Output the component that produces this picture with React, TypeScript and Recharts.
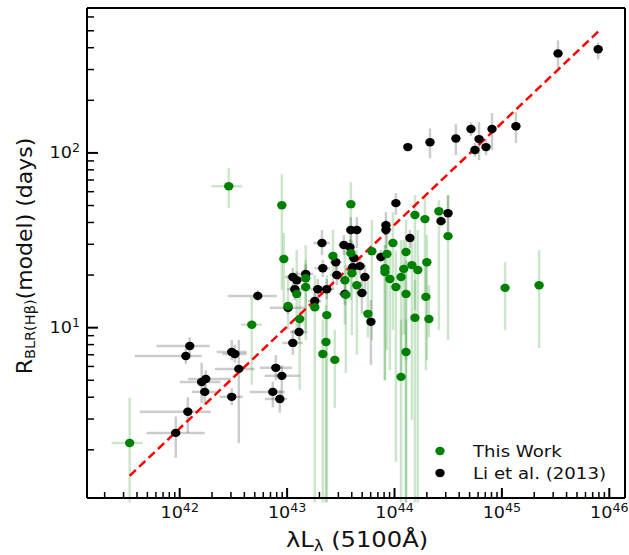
import React from "react"
import { ScatterChart, Scatter, XAxis, YAxis, ErrorBar, ReferenceLine, Legend } from "recharts"

// Li et al. (2013) sample: luminosity, radius and their error bounds
const liLum = [3.33e45, 7.87e45, 1.33e44, 2.14e44, 3.73e44, 5.15e44, 6.12e44, 5.61e44, 7.11e44, 8.09e44, 1.35e45, 1.03e44, 3.15e44, 2.71e44, 3.92e43, 4.46e43, 8.32e43, 8.32e43, 1.39e44, 7.47e43, 2.11e43, 3.38e43, 3.84e43, 4.19e43, 2.84e43, 2.15e43, 4.09e43, 4.76e43, 1.49e43, 1.13e43, 1.23e43, 2.9e43, 5.3e43, 1.18e43, 1.93e43, 2.34e43, 1.81e43, 3.45e43, 4.97e43, 6.03e43, 1.02e43, 1.29e43, 1.13e43, 5.33e42, 3.05e42, 3.26e42, 3.55e42, 7.85e42, 8.93e42, 7.36e42, 8.55e42, 3.05e42, 1.24e42, 1.14e42, 1.6e42, 1.75e42, 1.71e42, 1.19e42, 9.18e41]
const liLumLo = [3.2e45, 7.6e45, 1.28e44, 2.05e44, 3.6e44, 4.95e44, 5.9e44, 5.4e44, 6.85e44, 7.8e44, 1.3e45, 9.7e43, 3.0e44, 2.6e44, 3.5e43, 4.0e43, 7.8e43, 7.8e43, 1.3e44, 7.0e43, 1.75e43, 3.0e43, 3.4e43, 3.7e43, 2.5e43, 1.8e43, 3.6e43, 4.2e43, 1.25e43, 9.5e42, 1.05e43, 2.5e43, 4.7e43, 1.0e43, 1.65e43, 2.0e43, 1.55e43, 3.0e43, 4.4e43, 5.6e43, 6.9e42, 1.06e43, 9.0e42, 2.8e42, 2.21e42, 2.5e42, 2.12e42, 5.56e42, 6.19e42, 4.49e42, 6.19e42, 2.36e42, 6.1e41, 3.81e41, 1.0e42, 1.2e42, 1.3e42, 4.24e41, 4.92e41]
const liLumHi = [3.45e45, 8.15e45, 1.38e44, 2.23e44, 3.87e44, 5.35e44, 6.35e44, 5.8e44, 7.4e44, 8.4e44, 1.4e45, 1.09e44, 3.3e44, 2.82e44, 4.3e43, 5.0e43, 8.9e43, 8.9e43, 1.48e44, 8.0e43, 2.5e43, 3.8e43, 4.3e43, 4.7e43, 3.2e43, 2.5e43, 4.6e43, 5.3e43, 1.75e43, 1.35e43, 1.45e43, 3.3e43, 5.9e43, 1.4e43, 2.25e43, 2.7e43, 2.1e43, 3.9e43, 5.6e43, 6.5e43, 1.46e43, 1.55e43, 1.4e43, 8.02e42, 4.21e42, 4.2e42, 5.0e42, 1.11e43, 1.31e43, 9.52e42, 1.0e43, 3.87e42, 1.9e42, 1.6e42, 2.4e42, 3.0e42, 2.2e42, 1.95e42, 1.71e42]
const liRad = [371, 392, 108, 115, 121, 137, 120, 104, 108, 137, 142, 51.6, 45.2, 40.7, 36.2, 36.2, 38.6, 36.2, 32.6, 25.4, 30.5, 29.7, 28.9, 25.0, 23.7, 21.9, 22.2, 22.5, 20.3, 19.5, 18.7, 20.0, 19.5, 16.6, 16.6, 16.6, 14.2, 15.6, 15.8, 10.8, 13.0, 9.45, 8.18, 15.2, 7.26, 7.07, 5.81, 5.89, 5.3, 4.29, 3.91, 4.02, 7.86, 6.89, 4.89, 5.09, 4.29, 3.3, 2.5]
const liRadLo = [305, 343, 104, 93.3, 97, 125, 90.9, 95, 97, 104, 114, 44.1, 31.7, 38, 25.4, 28.5, 33.9, 28.5, 28.5, 23.7, 26.0, 26, 26, 22, 21, 19.5, 19.5, 20, 18, 17, 16.5, 17.5, 16.4, 14.4, 14.5, 14.5, 12.5, 13.5, 12, 6.12, 12, 8.5, 6.98, 14.2, 6.5, 6.3, 2.19, 5.0, 3.97, 3.5, 3.26, 3.6, 7.0, 6.2, 3.7, 4.5, 3.6, 2.5, 1.8]
const liRadHi = [441, 429, 113, 138, 146, 150, 150, 114, 120, 169, 171, 58.9, 57.3, 44, 42.9, 42.9, 45.8, 41.3, 36.2, 27.8, 36.2, 33.9, 32, 28, 27, 24.5, 25, 25, 23, 22, 21, 23, 23, 19, 19, 19, 16, 18, 19, 14.4, 14, 11.1, 9.7, 16.4, 8.5, 8, 8.51, 6.98, 6.1, 4.9, 4.4, 4.5, 8.8, 7.6, 6.3, 5.7, 5.1, 4.0, 3.1]

// This Work sample
const twLum = [2.86e42, 8.93e42, 9.32e42, 1.49e43, 1.49e43, 1.23e43, 2.67e43, 3.92e43, 4.01e43, 3.45e43, 4.46e43, 3.52e43, 1.02e43, 1.81e43, 2.34e43, 3.92e43, 1.55e44, 1.92e44, 2.59e44, 3.15e44, 9.66e43, 6.15e43, 8.49e43, 1.28e44, 2.0e44, 1.45e44, 1.65e44, 8.14e43, 8.14e43, 1.15e44, 9.06e43, 1.03e44, 1.28e44, 1.96e44, 1.22e44, 5.65e43, 1.55e44, 2.78e43, 2.09e44, 1.28e44, 1.15e44, 4.69e42, 1.31e43, 2.3e43, 2.15e43, 3.42e41, 1.07e45, 2.22e45]
const twLumLo = [1.97e42, null, null, null, null, null, null, null, null, null, null, null, null, null, null, null, null, null, null, null, null, null, null, null, null, null, null, null, null, null, null, null, null, null, null, null, null, null, null, null, null, 3.71e42, null, null, null, 2.32e41, null, null]
const twLumHi = [3.82e42, null, null, null, null, null, null, null, null, null, null, null, null, null, null, null, null, null, null, null, null, null, null, null, null, null, null, null, null, null, null, null, null, null, null, null, null, null, null, null, null, 5.81e42, null, null, null, 4.52e41, null, null]
const twRad = [64.5, 50.2, 24.7, 19.2, 17.1, 15.6, 25.7, 26.7, 20.5, 18.7, 17.5, 15.4, 13.3, 13.1, 11.8, 50.9, 44.1, 41.8, 46.4, 33.4, 30.5, 27.4, 26.4, 27.1, 23.7, 22.8, 21.4, 21.9, 20.8, 19.5, 19.0, 17.1, 15.6, 15.0, 21.7, 12.0, 11.4, 6.54, 11.2, 7.26, 5.23, 10.4, 11.2, 8.28, 7.07, 2.19, 16.9, 17.5]
const twRadLo = [48.3, 16.4, 13.5, 9.7, 8.51, 9.7, 16.4, 14.4, 9.08, 10.4, 7.0, 5.5, 9.7, 1.0, 1.0, 33.9, 12.6, 14.4, 9.7, 8.5, 9.7, 8.5, 7.45, 6.5, 6.5, 2.97, 1.0, 5.0, 5.0, 5.0, 5.7, 1.71, 1.0, 5.7, 9.1, 8.8, 1.0, 3.48, 8.8, 1.0, 1.0, 4.71, 4.4, 1.0, 1.0, 1.0, 9.7, 7.65]
const twRadHi = [81.8, 75.5, 34.8, 29.7, 24.4, 27.8, 36.2, 36.2, 31.7, 27.8, 27.8, 22.8, 20.0, 20.0, 20.0, 68.0, 57.3, 57.3, 53.7, 57.3, 45.8, 41.3, 38.6, 41.3, 33.9, 33.9, 36.2, 29.7, 29.7, 31.7, 27.8, 27.8, 24.4, 23.0, 31.7, 18.7, 18.7, 9.7, 17.5, 11.1, 11.1, 15.0, 16.4, 13.5, 11.1, 3.97, 23.7, 27.8]

// best-fit line end points
const fitLum = [3.42e41, 7.92e45]
const fitRad = [1.42, 496]

const legendLabels = ["This Work", "Li et al. (2013)"]

const xMajor = [1e42, 1e43, 1e44, 1e45, 1e46]
const xTickLabels = ["42", "43", "44", "45", "46"]
const yMajor = [1e1, 1e2]
const yTickLabels = ["1", "2"]
const minorMantissa = [2, 3, 4, 5, 6, 7, 8, 9]

const X_DOMAIN = [1.37e41, 1.4e46]
const Y_DOMAIN = [1.06, 675]

const FONT = "'DejaVu Sans', sans-serif"
const SX = 1.1
const GREEN = "#008000"

const buildTicks = (decades: number[], dom: number[]) => {
  const out: number[] = []
  decades.forEach((d) => {
    out.push(d)
    minorMantissa.forEach((m) => out.push(m * d))
  })
  return out.filter((v) => v >= dom[0] && v <= dom[1])
}
const xTicks = buildTicks([1e41, 1e42, 1e43, 1e44, 1e45, 1e46], X_DOMAIN)
const yTicks = buildTicks([1, 10, 100], Y_DOMAIN)

const majorIndex = (list: number[], v: number) =>
  list.findIndex((m) => Math.abs(Math.log10(m) - Math.log10(v)) < 1e-6)

const rows = (lum: number[], lo: (number | null)[], hi: (number | null)[], rad: number[], rlo: number[], rhi: number[]) =>
  lum.map((l, i) => ({
    lum: l,
    rad: rad[i],
    ex: lo[i] == null ? null : [l - (lo[i] as number), (hi[i] as number) - l],
    ey: [rad[i] - rlo[i], rhi[i] - rad[i]],
  }))

const liRows = rows(liLum, liLumLo, liLumHi, liRad, liRadLo, liRadHi)
const twRows = rows(twLum, twLumLo, twLumHi, twRad, twRadLo, twRadHi)

function XTick(props: any) {
  const { x, y, payload } = props
  const i = majorIndex(xMajor, payload.value)
  const major = i >= 0
  return (
    <g>
      <line x1={x} x2={x} y1={y} y2={y - (major ? 10 : 6)} stroke="#000" strokeWidth={major ? 2 : 1.5} />
      {major && (
        <g transform={`translate(${x},${y + 20}) scale(${SX},1)`}>
          <text textAnchor="middle" fontFamily={FONT} fontSize={16} fill="#111">
            10<tspan dy={-6.5} fontSize={11.5}>{xTickLabels[i]}</tspan>
          </text>
        </g>
      )}
    </g>
  )
}

function YTick(props: any) {
  const { x, y, payload } = props
  const i = majorIndex(yMajor, payload.value)
  const major = i >= 0
  return (
    <g>
      <line x1={x} x2={x + (major ? 11 : 7)} y1={y} y2={y} stroke="#000" strokeWidth={major ? 2 : 1.5} />
      {major && (
        <g transform={`translate(${x - 7},${y + 5.5}) scale(${SX},1)`}>
          <text textAnchor="end" fontFamily={FONT} fontSize={16} fill="#111">
            10<tspan dy={-6.5} fontSize={11.5}>{yTickLabels[i]}</tspan>
          </text>
        </g>
      )}
    </g>
  )
}

const dot = (fill: string) => (p: any) => <ellipse cx={p.cx} cy={p.cy} rx={4.7} ry={4.2} fill={fill} />

function LegendBox() {
  const colors = [GREEN, "#000"]
  return (
    <div style={{ fontFamily: FONT, fontSize: 16.5, color: "#111" }}>
      {legendLabels.map((t, i) => (
        <div key={t} style={{ display: "flex", alignItems: "center", height: 22 }}>
          <svg width={12} height={12}>
            <ellipse cx={6} cy={6} rx={4.7} ry={4.2} fill={colors[i]} />
          </svg>
          <span style={{ marginLeft: 27, display: "inline-block", transform: `scaleX(${SX})`, transformOrigin: "left center", whiteSpace: "nowrap" }}>{t}</span>
        </div>
      ))}
    </div>
  )
}

const frame = { stroke: "#000", strokeWidth: 2 }

export default function App() {
  return (
    <div style={{ position: "absolute", left: 0, top: 0, width: 629, height: 555, background: "#fff" }}>
      <ScatterChart width={629} height={555} margin={{ top: 7, right: 3, bottom: 56, left: 86 }}>
        <XAxis
          dataKey="lum"
          type="number"
          scale="log"
          domain={X_DOMAIN}
          allowDataOverflow
          ticks={xTicks}
          interval={0}
          tick={<XTick />}
          tickLine={false}
          tickSize={0}
          tickMargin={0}
          height={1}
          axisLine={frame}
        />
        <YAxis
          dataKey="rad"
          type="number"
          scale="log"
          domain={Y_DOMAIN}
          allowDataOverflow
          ticks={yTicks}
          interval={0}
          tick={<YTick />}
          tickLine={false}
          tickSize={0}
          tickMargin={0}
          width={1}
          axisLine={frame}
        />
        <XAxis xAxisId="top" orientation="top" type="number" scale="log" domain={X_DOMAIN} allowDataOverflow tick={false} tickLine={false} height={1} axisLine={frame} />
        <YAxis yAxisId="right" orientation="right" type="number" scale="log" domain={Y_DOMAIN} allowDataOverflow tick={false} tickLine={false} width={1} axisLine={frame} />

        <Scatter name="Li et al. (2013)" data={liRows} isAnimationActive={false} shape={dot("#000")}>
          <ErrorBar dataKey="ex" direction="x" width={0} stroke="rgba(0,0,0,0.2)" strokeWidth={2.5} isAnimationActive={false} />
          <ErrorBar dataKey="ey" direction="y" width={0} stroke="rgba(0,0,0,0.2)" strokeWidth={2.5} isAnimationActive={false} />
        </Scatter>
        <Scatter name="This Work" data={twRows} isAnimationActive={false} shape={dot(GREEN)}>
          <ErrorBar dataKey="ex" direction="x" width={0} stroke="rgba(0,128,0,0.2)" strokeWidth={2.5} isAnimationActive={false} />
          <ErrorBar dataKey="ey" direction="y" width={0} stroke="rgba(0,128,0,0.2)" strokeWidth={2.5} isAnimationActive={false} />
        </Scatter>

        <ReferenceLine
          segment={[
            { x: fitLum[0], y: fitRad[0] },
            { x: fitLum[1], y: fitRad[1] },
          ]}
          stroke="#ff0000"
          strokeWidth={2.5}
          strokeDasharray="8.5 4.5"
          ifOverflow="visible"
        />

        <Legend
          layout="vertical"
          align="center"
          verticalAlign="middle"
          content={() => <LegendBox />}
          wrapperStyle={{ left: 434, top: 440, width: 190, height: 44 }}
        />
      </ScatterChart>

      <svg width={629} height={555} style={{ position: "absolute", left: 0, top: 0, pointerEvents: "none" }}>
        <g transform={`translate(357,547) scale(${SX},1)`}>
          <text textAnchor="middle" fontFamily={FONT} fontSize={22} fill="#111">
            λL<tspan dy={4} fontSize={15}>λ</tspan>
            <tspan dy={-4}> (5100Å)</tspan>
          </text>
        </g>
        <g transform="translate(32,256) rotate(-90)">
          <text textAnchor="middle" fontFamily={FONT} fontSize={22} fill="#111">
            R<tspan dy={3} fontSize={14.5}>BLR(Hβ)</tspan>
            <tspan dy={-3}>(model) (days)</tspan>
          </text>
        </g>
      </svg>
    </div>
  )
}
